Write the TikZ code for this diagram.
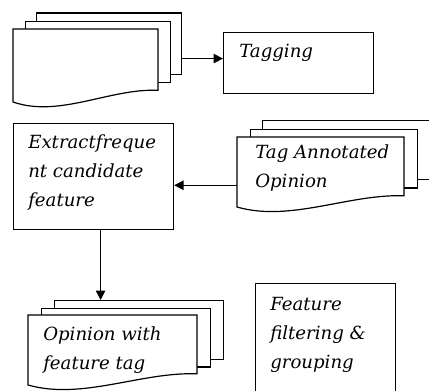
\documentclass[tikz,border=0pt]{standalone}
\usepackage{fontspec}
\usepackage{tikz}
\usetikzlibrary{arrows.meta,positioning}
\newfontfamily\flowfont{DejaVu Serif}

\tikzset{
  procbox/.style={draw, line width=0.9pt, anchor=north west, inner sep=0pt},
  boxtext/.style={anchor=north west, inner sep=0pt, align=left,
    font=\flowfont\itshape\fontsize{13.6}{21.75}\selectfont},
  sheet/.style={draw, fill=white, line width=0.9pt},
  flow/.style={-{Triangle[length=7pt,width=7pt]}, line width=0.9pt},
}

% stack of three sheets, the front one with a wavy bottom
% #1 name, #2 left, #3 top, #4 width, #5 height, #6 dx, #7 dy
\newcommand{\docstack}[7]{%
  \node[sheet, minimum width={#4*0.75pt}, minimum height={0.84*#5*0.75pt},
    inner sep=0pt, anchor=north west] (#1-back) at ({#2+2*#6},{#3-2*#7}) {};
  \node[sheet, minimum width={#4*0.75pt}, minimum height={0.84*#5*0.75pt},
    inner sep=0pt, anchor=north west] (#1-mid) at ({#2+#6},{#3-#7}) {};
  \draw[sheet] (#2,#3) -- ({#2+#4},#3) -- ({#2+#4},{#3+0.84*#5})
    .. controls ({#2+0.67*#4},{#3+0.81*#5}) and ({#2+0.32*#4},{#3+1.22*#5}) .. (#2,{#3+#5}) -- cycle;
  \node[minimum width={#4*0.75pt}, minimum height={#5*0.75pt},
    inner sep=0pt, anchor=north west] (#1) at (#2,#3) {};
}

\begin{document}
\begin{tikzpicture}[x=0.75pt,y=-0.75pt]
\useasboundingbox (0,0) rectangle (429,390);

% document stacks
\docstack{rawdocs}{13}{29}{145}{73}{11.5}{8.3}
\docstack{annotated}{237}{137}{167}{70}{12.5}{8.5}
\docstack{tagged}{28}{315}{169}{70}{13}{7.5}

% process boxes
\node[procbox, minimum width=112.5pt, minimum height=45.75pt] (tagging) at (223,32) {};
\node[procbox, minimum width=120pt, minimum height=79.5pt] (extract) at (13,123) {};
\node[procbox, minimum width=105pt, minimum height=97.5pt] (filtering) at (255,283) {};

% texts
\node[boxtext] (tagging-text) at (239,44) {Tagging};
\node[boxtext] (extract-text) at (28,134.5) {Extractfreque\\nt candidate\\feature};
\node[boxtext] (annotated-text) at (255,144.5) {Tag Annotated\\Opinion};
\node[boxtext] (tagged-text) at (43,326.5) {Opinion with\\feature tag};
\node[boxtext] (filtering-text) at (270,297) {Feature\\filtering \&\\grouping};

% connectors
\coordinate (tagin) at ([yshift=3.4pt]tagging.west);
\draw[flow] (rawdocs-back.east |- tagin) -- (tagin);
\coordinate (annout) at ([yshift=-9.75pt]annotated.west);
\draw[flow] (annout) -- (extract.east |- annout);
\coordinate (exout) at ([xshift=5.25pt]extract.south);
\draw[flow] (exout) -- (exout |- tagged-back.north);
\end{tikzpicture}
\end{document}
